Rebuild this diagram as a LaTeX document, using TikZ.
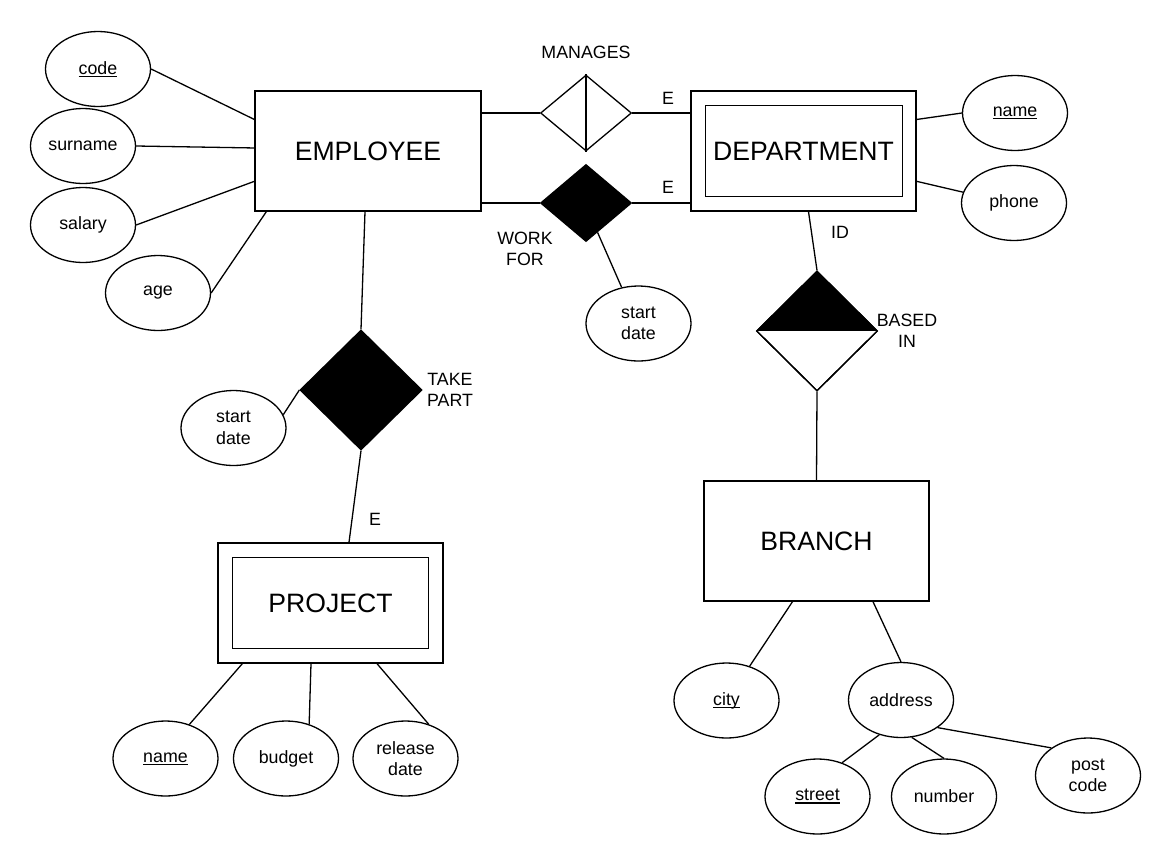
\documentclass[tikz,border=0pt]{standalone}
\usepackage{fontspec}
\setmainfont{Liberation Sans}
\usetikzlibrary{shapes.geometric,calc}
\newcommand\attrfont{\fontsize{17.8pt}{21.5pt}\selectfont}
\newcommand\entfont{\fontsize{26.6pt}{32pt}\selectfont}
\newcommand\undl[1]{\leavevmode\setbox0\hbox{#1}\rlap{\rule[-2.6pt]{\wd0}{1.1pt}}\box0}
\begin{document}
\begin{tikzpicture}[x=1pt,y=-1pt,line width=1.3pt,
  attr/.style={ellipse,draw,fill=white,minimum width=105,minimum height=75,inner sep=0pt,font=\attrfont,align=center},
  ent/.style={rectangle,draw,fill=white,minimum width=226,minimum height=120,inner sep=0pt,font=\entfont},
  rel/.style={diamond,draw,inner sep=0pt},
  lbl/.style={font=\attrfont,align=center,inner sep=0pt}]
\fill[white] (0,0) rectangle (1172,863);
\useasboundingbox (0,0) rectangle (1172,863);

% entities
\node[ent] (emp) at (368,151) {EMPLOYEE};
\node[ent,minimum width=225] (dept) at (803.5,151) {};
\draw ([shift={(15,15)}]dept.north west) rectangle ([shift={(-14,-15)}]dept.south east);
\node[font=\entfont,inner sep=0pt] (deptt) at (dept.center) {DEPARTMENT};
\node[ent,minimum width=225] (proj) at (330.5,603) {};
\draw ([shift={(15,15)}]proj.north west) rectangle ([shift={(-15,-15)}]proj.south east);
\node[font=\entfont,inner sep=0pt] (projt) at (proj.center) {PROJECT};
\node[ent,minimum width=225] (branch) at (816.5,541) {BRANCH};

% attributes
\node[attr] (code) at (98,69) {\undl{code}};
\node[attr] (surname) at (83,146) {surname};
\node[attr] (salary) at (83,225) {salary};
\node[attr] (age) at (158,293) {age};
\node[attr] (dname) at (1015,113) {\undl{name}};
\node[attr] (phone) at (1014,203) {phone};
\node[attr] (wsd) at (638.5,323.5) {start\\date};
\node[attr] (tsd) at (233.5,428) {start\\date};
\node[attr] (pname) at (165.5,758.5) {\undl{name}};
\node[attr] (budget) at (286,758.5) {budget};
\node[attr] (release) at (405.5,758.5) {release\\date};
\node[attr] (city) at (726.5,700.5) {\undl{city}};
\node[attr] (address) at (901,700) {address};
\node[attr] (street) at (817.5,796.5) {\undl{street}};
\node[attr] (number) at (944,796.5) {number};
\node[attr] (post) at (1088,775.5) {post\\code};

% relationships
\node[rel,fill=white,minimum width=91,minimum height=76] (man) at (586,113) {};
\draw (man.north) -- (man.south);
\node[rel,fill=black,minimum width=91,minimum height=77] (work) at (586,203) {};
\node[rel,fill=black,minimum width=122,minimum height=120] (take) at (361,390) {};
\node[rel,fill=white,minimum width=121,minimum height=120,
  path picture={\fill[black] (path picture bounding box.north west) rectangle (path picture bounding box.east);}] (based) at (817,331) {};
\node[rel,minimum width=121,minimum height=120] (basedb) at (817,331) {};

% labels
\node[lbl] (lman) at (586,52) {MANAGES};
\node[lbl] (le1) at (668,98) {E};
\node[lbl] (le2) at (668,187) {E};
\node[lbl] (lwork) at (525,249) {WORK\\FOR};
\node[lbl] (lid) at (840,232) {ID};
\node[lbl] (lbased) at (907,331) {BASED\\IN};
\node[lbl] (ltake) at (450,390) {TAKE\\PART};
\node[lbl] (le3) at (375,519) {E};

% connectors
\draw (code.east) -- ($(emp.north west)!0.24!(emp.south west)$);
\draw (surname.east) -- ($(emp.north west)!0.475!(emp.south west)$);
\draw (salary.east) -- ($(emp.north west)!0.75!(emp.south west)$);
\draw (age.east) -- ([xshift=12]emp.south west);
\draw (man.west) -- (man.west -| emp.east);
\draw (man.east) -- (man.east -| dept.west);
\draw (work.west) -- (work.west -| emp.east);
\draw (work.east) -- (work.east -| dept.west);
\draw ($(work.south)!0.25!(work.east)$) -- (wsd.115);
\draw ([xshift=-3]emp.south) -- (take.north);
\draw (take.west) -- (tsd.15);
\draw (take.south) -- ([xshift=18.5]proj.north);
\draw ([xshift=25]proj.south west) -- (pname.55);
\draw ([xshift=-19.5]proj.south) -- (budget.56);
\draw ([xshift=46.5]proj.south) -- (release.56);
\draw ($(dept.north east)!0.24!(dept.south east)$) -- (dname.west);
\draw ($(dept.north east)!0.75!(dept.south east)$) -- (phone.168);
\draw ([xshift=5]dept.south) -- (based.north);
\draw (based.south) -- (branch.north);
\draw ([xshift=-24]branch.south) -- (city.56);
\draw ([xshift=56.5]branch.south) -- (address.north);
\draw (address.238) -- (street.54);
\draw (address.286) -- (number.north);
\draw (address.323) -- (post.143);
\end{tikzpicture}
\end{document}
